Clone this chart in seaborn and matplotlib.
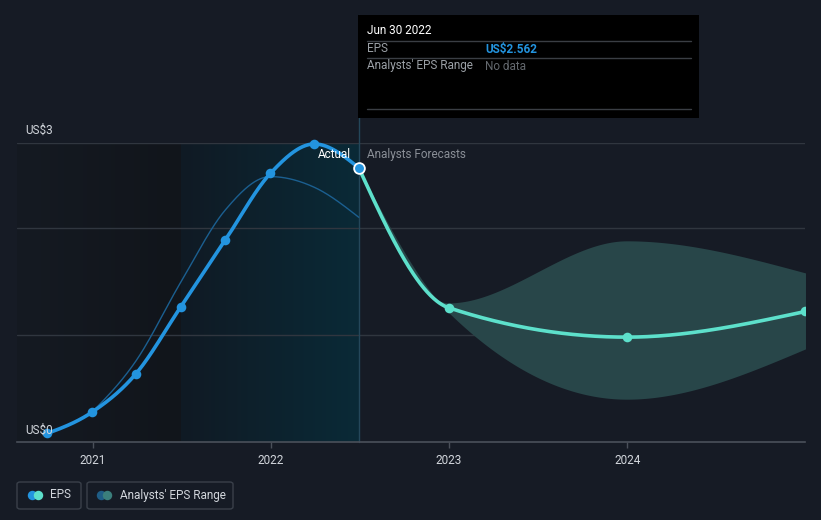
import numpy as np
import pandas as pd
import matplotlib
matplotlib.use("Agg")
import matplotlib.pyplot as plt
import matplotlib.dates as mdates
import seaborn as sns
from matplotlib.patches import FancyBboxPatch, Rectangle
from matplotlib.lines import Line2D
from matplotlib.colors import LinearSegmentedColormap

# ---------------- data ----------------
eps_dates = ["2020-09-30", "2020-12-31", "2021-03-31", "2021-06-30",
             "2021-09-30", "2021-12-31", "2022-03-31", "2022-06-30"]
eps_values = [0.08, 0.28, 0.64, 1.26, 1.89, 2.51, 2.785, 2.562]

past_est_dates = ["2020-12-31", "2021-03-31", "2021-06-30", "2021-09-30",
                  "2021-12-31", "2022-03-31", "2022-06-30"]
past_est_values = [0.28, 0.76, 1.49, 2.17, 2.48, 2.38, 2.10]

fc_dates = ["2022-06-30", "2022-12-31", "2023-12-31", "2024-12-31"]
fc_values = [2.562, 1.255, 0.98, 1.22]
range_low = [2.562, 1.21, 0.40, 0.87]
range_high = [2.562, 1.30, 1.88, 1.58]

year_ticks = ["2021", "2022", "2023", "2024"]
y_labels = ["US$0", "US$3"]

# ---------------- style ----------------
BG = "#161b25"
BLUE = "#2394df"
TEAL = "#5de0cb"
BAND = "#284649"
GRID = "#30363f"
AXIS = "#4a505a"
TXT = "#d2d6dc"
GREY = "#8a8f97"

sns.set_theme(style="dark")
plt.rcParams["font.family"] = ["Roboto", "DejaVu Sans"]


def num(dates):
    return mdates.date2num(pd.to_datetime(dates))


def monotone(x, y, n=80):
    x = np.asarray(x, float)
    y = np.asarray(y, float)
    h = np.diff(x)
    s = np.diff(y) / h
    m = np.zeros_like(y)
    sg = lambda v: -1.0 if v < 0 else 1.0
    for i in range(1, len(x) - 1):
        p = (s[i - 1] * h[i] + s[i] * h[i - 1]) / (h[i - 1] + h[i])
        m[i] = (sg(s[i - 1]) + sg(s[i])) * min(abs(s[i - 1]), abs(s[i]), 0.5 * abs(p))
    if len(x) > 2:
        m[0] = (3 * s[0] - m[1]) / 2
        m[-1] = (3 * s[-1] - m[-2]) / 2
    else:
        m[:] = s[0]
    xs, ys = [], []
    for i in range(len(h)):
        t = np.linspace(0, 1, n)
        h00 = 2 * t**3 - 3 * t**2 + 1
        h10 = t**3 - 2 * t**2 + t
        h01 = -2 * t**3 + 3 * t**2
        h11 = t**3 - t**2
        xs.append(x[i] + t * h[i])
        ys.append(h00 * y[i] + h10 * h[i] * m[i] + h01 * y[i + 1] + h11 * h[i] * m[i + 1])
    return np.concatenate(xs), np.concatenate(ys)


W, H = 821, 520
fig = plt.figure(figsize=(W / 100, H / 100), dpi=100, facecolor=BG)
ax = fig.add_axes([17 / W, 1 - 442 / H, (805 - 17) / W, (442 - 143) / H])
ax.set_facecolor(BG)

YTOP = 2.794
x0 = mdates.date2num(pd.Timestamp("2020-07-30"))
x1 = mdates.date2num(pd.Timestamp("2024-12-30"))

# shaded regions
xs_past = num(["2021-06-30"])[0]
xs_now = num(["2022-06-30"])[0]
grad = np.linspace(0, 1, 256).reshape(1, -1)
cm_left = LinearSegmentedColormap.from_list("l", ["#151a22", "#11151b"])
cm_hi = LinearSegmentedColormap.from_list("h", ["#101a24", "#0a2a37"])
ax.imshow(grad, extent=[x0, xs_past, 0, YTOP], aspect="auto", cmap=cm_left, zorder=0.5)
ax.imshow(grad, extent=[xs_past, xs_now, 0, YTOP], aspect="auto", cmap=cm_hi, zorder=0.5)
ax.set_xlim(x0, x1)
ax.set_ylim(0, YTOP)

# grid lines
for yv in [1, 2, YTOP]:
    ax.axhline(yv, color=GRID, lw=1, zorder=1)

# vertical "now" line extending up to tooltip
ax.axvline(xs_now, ymin=0, ymax=(442 - 15) / (442 - 143), color="#24475a", lw=1,
           clip_on=False, zorder=1.5)

# forecast band
bx = num(fc_dates)
lx, ly = monotone(bx, range_low)
hx, hy = monotone(bx, range_high)
ax.fill_between(lx, ly, hy, color=BAND, lw=0, zorder=2)

# past analyst estimate (thin)
px, py = monotone(num(past_est_dates), past_est_values)
sns.lineplot(x=px, y=py, ax=ax, color="#1b5f90", lw=1.0, zorder=3, estimator=None, sort=False)

# EPS line
ex, ey = monotone(num(eps_dates), eps_values)
sns.lineplot(x=ex, y=ey, ax=ax, color=BLUE, lw=2.6, zorder=4, estimator=None, sort=False)
ed = pd.DataFrame({"x": num(eps_dates), "y": eps_values})
sns.scatterplot(data=ed.iloc[:-1], x="x", y="y", ax=ax, color=BLUE, s=48, linewidth=0, zorder=5)
for art in ax.lines[-1:] + ax.collections[-1:]:
    art.set_clip_on(False)

# forecast line
fx, fy = monotone(num(fc_dates), fc_values)
sns.lineplot(x=fx, y=fy, ax=ax, color=TEAL, lw=2.6, zorder=4, estimator=None, sort=False)
fd = pd.DataFrame({"x": num(fc_dates), "y": fc_values})
sns.scatterplot(data=fd.iloc[1:], x="x", y="y", ax=ax, color=TEAL, s=48, linewidth=0, zorder=5)
sns.scatterplot(data=ed.iloc[-1:], x="x", y="y", ax=ax, color=BLUE, s=60,
                edgecolor="white", linewidth=1.3, zorder=6)
ax.collections[-1].set_clip_on(False)

# axes styling
for sp in ["top", "right", "left"]:
    ax.spines[sp].set_visible(False)
ax.spines["bottom"].set_color(AXIS)
ax.spines["bottom"].set_linewidth(1.2)
ax.set_xticks(num([f"{y}-01-01" for y in year_ticks]))
ax.set_xticklabels(year_ticks)
ax.tick_params(axis="x", colors=AXIS, labelcolor=TXT, labelsize=8.5, length=4, width=1, pad=5,
               bottom=True)
ax.set_yticks([])
ax.set_xlabel("")
ax.set_ylabel("")
ax.grid(False)
if ax.get_legend():
    ax.get_legend().remove()

# y labels
fig.text(25 / W, 1 - 130 / H, y_labels[1], color=TXT, fontsize=8.5, va="center", ha="left")
fig.text(25 / W, 1 - 430 / H, y_labels[0], color=TXT, fontsize=8.5, va="center", ha="left")

# Actual / Analysts Forecasts
fig.text(351 / W, 1 - 154 / H, "Actual", color="white", fontsize=8.5, va="center", ha="right")
fig.text(367 / W, 1 - 154 / H, "Analysts Forecasts", color=GREY, fontsize=8.5, va="center", ha="left")

# tooltip
fig.add_artist(Rectangle((358 / W, 1 - 118 / H), 341 / W, 103 / H, transform=fig.transFigure,
                         facecolor="black", edgecolor="none", zorder=10))
fig.text(367 / W, 1 - 31 / H, "Jun 30 2022", color="white", fontsize=8.5, va="center", zorder=11)
for yy in [41, 58, 109]:
    fig.add_artist(Line2D([367 / W, 691 / W], [1 - yy / H, 1 - yy / H], transform=fig.transFigure,
                          color="#3a3e44", lw=1, zorder=11))
fig.text(367 / W, 1 - 49 / H, "EPS", color="#9ba0a6", fontsize=8.5, va="center", zorder=11)
fig.text(485 / W, 1 - 49 / H, "US$2.562", color=BLUE, fontsize=8.5, va="center",
         fontweight="bold", zorder=11)
fig.text(367 / W, 1 - 66 / H, "Analysts' EPS Range", color="#9ba0a6", fontsize=8.5, va="center", zorder=11)
fig.text(485 / W, 1 - 66 / H, "No data", color="#64696f", fontsize=8.5, va="center", zorder=11)

# legend
for (bx0, bx1) in [(17, 81), (87, 233)]:
    fig.add_artist(FancyBboxPatch((bx0 / W, 1 - 509 / H), (bx1 - bx0) / W, 27 / H,
                                  boxstyle="round,pad=0,rounding_size=0.004",
                                  transform=fig.transFigure, facecolor="none",
                                  edgecolor="#3a404a", lw=1))
for cx, col in [(31.5, BLUE), (37.5, TEAL), (101, "#1f5d86"), (107, "#3b7f7c")]:
    fig.add_artist(Line2D([cx / W], [1 - 495 / H], transform=fig.transFigure, marker="o",
                          markersize=6.8, color=col, markeredgewidth=0, linestyle="none"))
fig.text(50 / W, 1 - 495 / H, "EPS", color=TXT, fontsize=8.5, va="center")
fig.text(120 / W, 1 - 495 / H, "Analysts' EPS Range", color=TXT, fontsize=8.5, va="center")

fig.savefig("out.png", dpi=100, facecolor=BG)
